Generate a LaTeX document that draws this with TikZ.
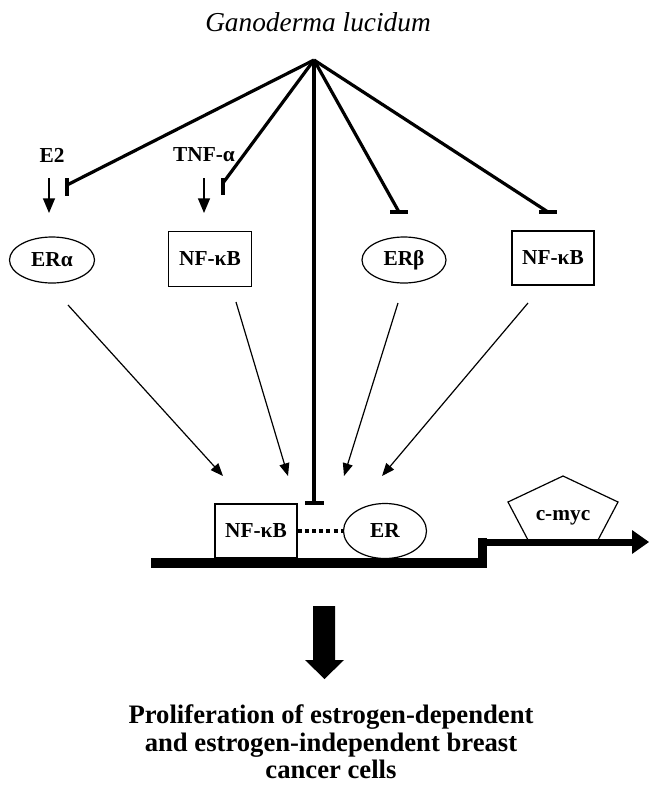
\documentclass[tikz,border=0pt]{standalone}
\usepackage{fontspec}
\setmainfont{Liberation Serif}
\usetikzlibrary{arrows.meta,shapes.geometric}
\begin{document}
\begin{tikzpicture}[x=0.75pt,y=-0.75pt,
  lbl/.style={font=\fontsize{16}{19}\selectfont\bfseries, inner sep=0pt},
  ovalnode/.style={ellipse,draw,line width=0.9pt,inner sep=0pt,font=\fontsize{16}{19}\selectfont\bfseries},
  boxnode/.style={rectangle,draw,line width=0.9pt,inner sep=0pt,font=\fontsize{16}{19}\selectfont\bfseries},
  inhib/.style={line width=2.4pt},
  tbar/.style={line width=2.8pt},
  thinarrow/.style={line width=0.9pt,-{Triangle[length=9.5pt,width=7.5pt]}},
  downarrow/.style={line width=1pt,-{Triangle[length=11pt,width=9pt]}}]
\useasboundingbox (0,0) rectangle (649,797);

% title
\node[font=\fontsize{20.5}{24}\selectfont\itshape, inner sep=0pt] (title) at (318,22) {Ganoderma lucidum};
\coordinate (hub) at (314,60);

% labels
\node[lbl] (e2) at (52,155) {E2};
\node[lbl] (tnf) at (204,155) {TNF-α};

% upper nodes
\node[ovalnode, minimum width=63.75pt, minimum height=34.5pt] (erA) at (52,260) {ERα};
\node[boxnode, minimum width=62.25pt, minimum height=41.25pt] (nfL) at (210,259) {NF-κB};
\node[ovalnode, minimum width=63pt, minimum height=34.5pt] (erBt) at (404,260) {ERβ};
\node[boxnode, minimum width=61.5pt, minimum height=40.5pt] (nfR) at (553,258) {NF-κB};

% down arrows
\coordinate (e2s) at (49,178); \coordinate (e2e) at (49,213);
\coordinate (tnfs) at (204,178); \coordinate (tnfe) at (204,213);
\draw[downarrow] (e2s) -- (e2e);
\draw[downarrow] (tnfs) -- (tnfe);

% inhibition lines from hub
\coordinate (b1) at (67,185); \coordinate (b1a) at (67,178); \coordinate (b1b) at (67,196);
\coordinate (b2) at (223,183); \coordinate (b2a) at (223,178); \coordinate (b2b) at (223,195);
\coordinate (b3) at (314,503); \coordinate (b3a) at (305,503); \coordinate (b3b) at (324,503);
\coordinate (b4) at (399,212); \coordinate (b4a) at (390,212); \coordinate (b4b) at (408,212);
\coordinate (b5) at (548,212); \coordinate (b5a) at (539,212); \coordinate (b5b) at (557,212);
\draw[inhib] (hub) -- (b1); \draw[tbar] (b1a) -- (b1b);
\draw[inhib] (hub) -- (b2); \draw[tbar] (b2a) -- (b2b);
\draw[inhib] (hub) -- (b3); \draw[tbar] (b3a) -- (b3b);
\draw[inhib] (hub) -- (b4); \draw[tbar] (b4a) -- (b4b);
\draw[inhib] (hub) -- (b5); \draw[tbar] (b5a) -- (b5b);

% lower complex
\node[boxnode, minimum width=61.5pt, minimum height=40.5pt] (nfB) at (256,531) {NF-κB};
\node[ovalnode, minimum width=62.25pt, minimum height=41.25pt] (erB) at (385,531) {ER};
\draw[line width=2.4pt, dash pattern=on 3pt off 2.4pt] (nfB.east) -- (erB.west);

% thin arrows to complex
\coordinate (a1s) at (68,305); \coordinate (a1e) at (223,476);
\coordinate (a2s) at (236,302); \coordinate (a2e) at (288,476);
\coordinate (a3s) at (398,303); \coordinate (a3e) at (344,476);
\coordinate (a4s) at (528,303); \coordinate (a4e) at (382,476);
\draw[thinarrow] (a1s) -- (a1e);
\draw[thinarrow] (a2s) -- (a2e);
\draw[thinarrow] (a3s) -- (a3e);
\draw[thinarrow] (a4s) -- (a4e);

% c-myc pentagon
\coordinate (p1) at (563,476); \coordinate (p2) at (618,502); \coordinate (p3) at (598,540);
\coordinate (p4) at (528,540); \coordinate (p5) at (508,502);
\draw[line width=0.9pt] (p1) -- (p2) -- (p3) -- (p4) -- (p5) -- cycle;
\node[lbl] (cmyc) at (563,518) {c-myc};

% DNA step line
\fill (151,558) rectangle (487,568);
\fill (478,538) rectangle (487,568);
\fill (478,538.5) rectangle (634,546);
\fill (632,530) -- (649,542) -- (632,554) -- cycle;

% big arrow
\fill (313,606) -- (335,606) -- (335,660) -- (344,660) -- (324.5,679) -- (305,660) -- (313,660) -- cycle;

% bottom text
\node[font=\fontsize{20}{20.5}\selectfont\bfseries, align=center, inner sep=0pt] (result) at (331,742)
 {Proliferation of estrogen-dependent\\and estrogen-independent breast\\cancer cells};
\end{tikzpicture}
\end{document}
